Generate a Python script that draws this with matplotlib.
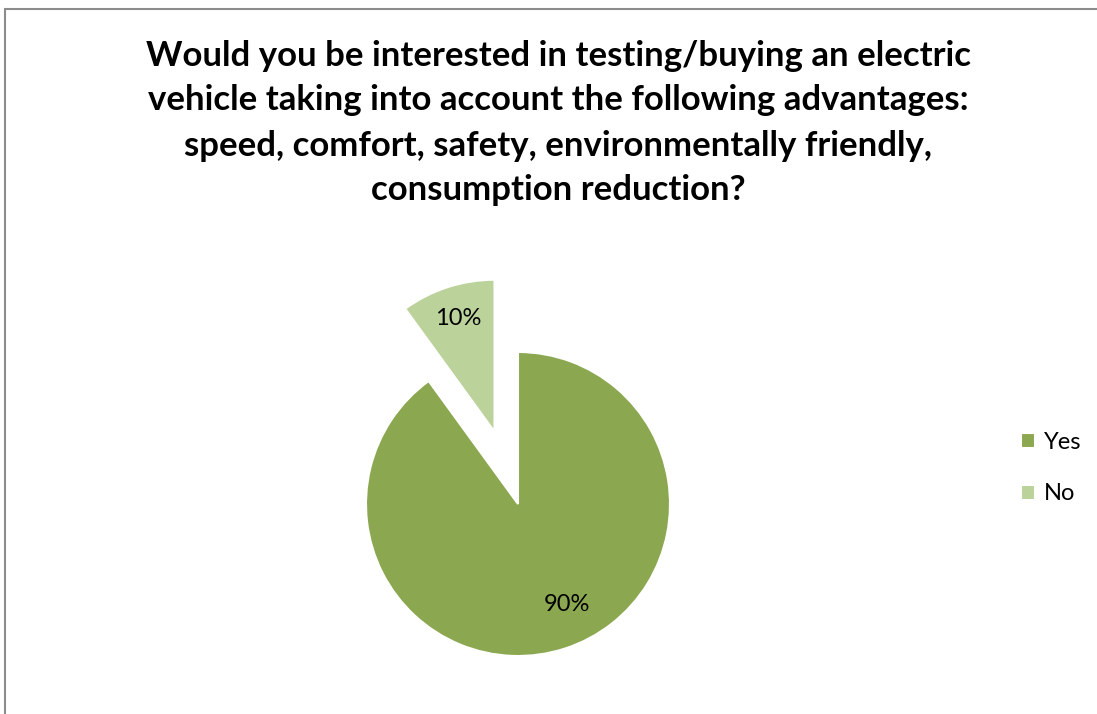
import matplotlib.pyplot as plt
from matplotlib.patches import Rectangle

# survey answers
answers = ['Yes', 'No']
shares = [90, 10]
colors = ['#8ba750', '#bbd29b']

title = ('Would you be interested in testing/buying an electric\n'
         'vehicle taking into account the following advantages:\n'
         'speed, comfort, safety, environmentally friendly,\n'
         'consumption reduction?')

W, H = 1097, 714
fig = plt.figure(figsize=(W / 100, H / 100), dpi=100)

# chart frame (runs off the right and bottom edge)
fig.patches.append(Rectangle((4.5 / W, -0.1), 1.2, 1 - 9.5 / H + 0.1,
                             transform=fig.transFigure, fill=False,
                             edgecolor='#8c8c8c', lw=1.5))

fig.text(558 / W, 1 - 123 / H, title, ha='center', va='center',
         fontsize=25, fontweight='bold', family='Lato', linespacing=1.5)

# pie axes: square box centred on the pie, radius 152 px
cx, cy, r = 518, 504, 152
box = 420
ax = fig.add_axes([(cx - box / 2) / W, 1 - (cy + box / 2) / H, box / W, box / H])
wedges, texts, autotexts = ax.pie(
    shares, colors=colors, startangle=90, counterclock=False,
    explode=[0, 0.5], autopct='%1.0f%%', pctdistance=0.78,
    wedgeprops=dict(edgecolor='white', linewidth=1.5),
    textprops=dict(fontsize=17, family='Lato', color='black'))
# data label of the big slice sits a bit right of its bisector
autotexts[0].set_position((0.32, -0.66))
lim = box / 2 / r
ax.set_xlim(-lim, lim)
ax.set_ylim(-lim, lim)
ax.set_aspect('equal')
ax.axis('off')

fig.legend(wedges, answers, loc='center left',
           bbox_to_anchor=(1000 / W, 1 - 468 / H), frameon=False,
           prop=dict(family='Lato', size=17), handlelength=0.6,
           handleheight=0.6, handletextpad=0.35, labelspacing=1.3)

fig.savefig('out.png', dpi=100)
